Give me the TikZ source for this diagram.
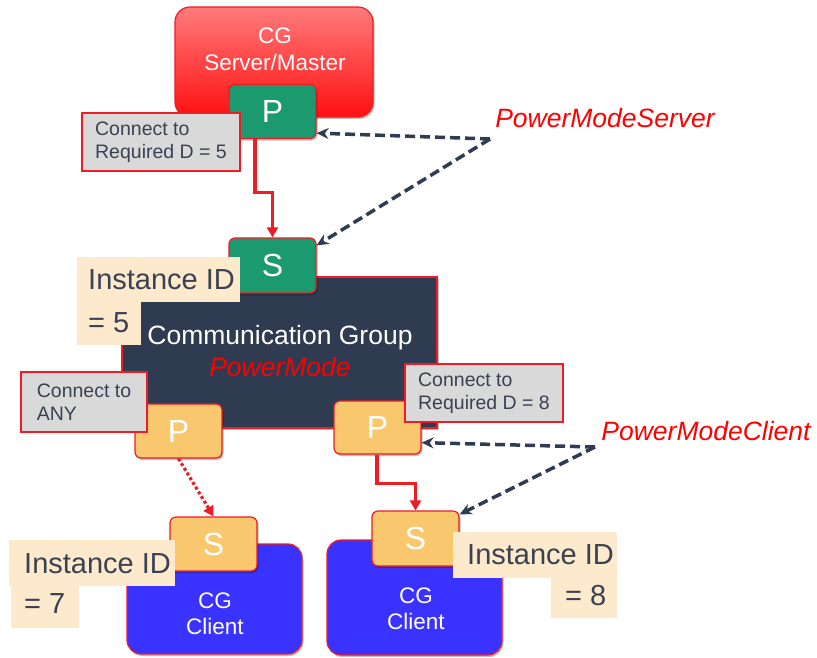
\documentclass[tikz,border=0pt]{standalone}
\usepackage{fontspec}
\setmainfont{Liberation Sans}
\usetikzlibrary{arrows.meta,shadows}
\definecolor{portgreen}{HTML}{1B9A6F}
\definecolor{portorange}{HTML}{F9C76D}
\definecolor{redline}{HTML}{EE1C24}
\definecolor{lblgray}{HTML}{D9D9D9}
\definecolor{lbltext}{HTML}{3A4152}
\definecolor{beigec}{HTML}{FDE9CB}
\definecolor{cgdark}{HTML}{2E3B50}
\definecolor{clientblue}{HTML}{3A33FF}
\definecolor{dashc}{HTML}{2E3D52}
\definecolor{redtxt}{HTML}{FF0000}
\definecolor{srvtop}{HTML}{FF7B7B}
\definecolor{srvbot}{HTML}{FF1010}
\begin{document}
\begin{tikzpicture}[x=1pt,y=-1pt,
  shad/.style={drop shadow={shadow xshift=1.5pt, shadow yshift=-2pt, opacity=0.25, fill=black}},
  port/.style={shad, rounded corners=6pt, draw=redline, line width=1.2pt, minimum width=87pt, minimum height=54pt, text=white, font=\fontsize{32}{34}\selectfont, inner sep=0pt},
  gport/.style={port, fill=portgreen},
  oport/.style={port, fill=portorange},
  graylbl/.style={fill=lblgray, draw=redline, line width=1.5pt, align=left, text=lbltext, font=\fontsize{19.5}{23}\selectfont, inner sep=0pt},
  beige/.style={fill=beigec, inner sep=0pt},
  beigetxt/.style={anchor=west, inner sep=0pt, text=lbltext, font=\fontsize{29}{31}\selectfont},
  client/.style={shad, rounded corners=14pt, fill=clientblue, draw=redline, line width=1.2pt, minimum width=175pt, inner sep=0pt},
  whitetxt/.style={text=white, align=center, inner sep=0pt},
  redarrow/.style={draw=redline, line width=3.2pt, -{Triangle[length=10pt,width=11pt]}},
  dotarrow/.style={draw=redline, line width=3.2pt, dash pattern=on 3pt off 2.5pt, -{Triangle[length=10pt,width=11pt]}},
  darrow/.style={draw=dashc, line width=3.5pt, dash pattern=on 10pt off 5pt, -{Stealth[length=12pt,width=11pt]}},
  nametxt/.style={text=redtxt, font=\fontsize{26.5}{30}\selectfont\itshape, inner sep=0pt}
]
\fill[white] (0,0) rectangle (817,657);
\useasboundingbox (0,0) rectangle (817,657);

% server
\node[shad, rounded corners=15pt, top color=srvtop, bottom color=srvbot, draw=redline, line width=1.2pt,
      minimum width=198pt, minimum height=110pt, inner sep=0pt] (srv) at (274,62) {};
\node[whitetxt, font=\fontsize{22.5}{27}\selectfont] (srvtxt) at (275,49) {CG\\Server/Master};
\node[gport] (srvP) at (272.5,111.5) {P};
\node[graylbl, minimum width=158pt, minimum height=58pt] (lbl5) at (161,142) {Connect to\\Required D = 5};

% communication group
\node[shad, fill=cgdark, draw=redline, line width=1.2pt, minimum width=315pt, minimum height=151pt, inner sep=0pt] (cg) at (279.5,352.5) {};
\node[gport, minimum height=55pt] (cgS) at (272.5,265.5) {S};
\node[whitetxt, font=\fontsize{26.5}{32}\selectfont] (cgtxt) at (280,351) {Communication Group\\\textcolor{redtxt}{\itshape PowerMode}};
\node[beige, minimum width=163pt, minimum height=45pt] (inst5a) at (158.5,279.5) {};
\node[beige, minimum width=64pt, minimum height=43pt] (inst5b) at (109,323.5) {};
\node[beigetxt] (inst5t) at (88,280) {Instance ID};
\node[beigetxt] (inst5v) at (88,323) {= 5};

% publishers of the group
\node[oport] (lP) at (178.5,431) {P};
\node[oport, minimum height=53pt] (rP) at (377.5,427.5) {P};
\node[graylbl, minimum width=126pt, minimum height=60pt] (lblany) at (84,402) {Connect to\\ANY};
\node[graylbl, minimum width=158pt, minimum height=58pt] (lbl8) at (484,393) {Connect to\\Required D = 8};

% clients
\node[client, minimum height=110pt] (lcl) at (214.5,599) {};
\node[whitetxt, font=\fontsize{22.5}{26}\selectfont] (lcltxt) at (215,614) {CG\\Client};
\node[client, minimum height=115pt] (rcl) at (414.5,597.5) {};
\node[whitetxt, font=\fontsize{22.5}{26}\selectfont] (rcltxt) at (416,609) {CG\\Client};
\node[oport] (lS) at (213.5,544) {S};
\node[oport, minimum height=55pt] (rS) at (415.5,538.5) {S};

\node[beige, minimum width=166pt, minimum height=46pt] (inst7a) at (92,563) {};
\node[beige, minimum width=68pt, minimum height=42pt] (inst7b) at (45,607) {};
\node[beigetxt] (inst7t) at (24,564) {Instance ID};
\node[beigetxt] (inst7v) at (24,604) {= 7};

\node[beige, minimum width=164pt, minimum height=46pt] (inst8a) at (535,555) {};
\node[beige, minimum width=66pt, minimum height=40pt] (inst8b) at (584,598) {};
\node[beigetxt] (inst8t) at (467,555) {Instance ID};
\node[beigetxt] (inst8v) at (565,596) {= 8};

% red connectors
\draw[redarrow] ([xshift=-17.5pt]srvP.south) -- ++(0,53) -| (cgS.north);
\draw[redarrow] ([xshift=-0.5pt]rP.south) -- ++(0,29) -| (rS.north);
\draw[dotarrow] (lP.south) -- (lS.north);

% role labels
\node[nametxt] (srvname) at (605,118) {PowerModeServer};
\node[nametxt] (cliname) at (706,431) {PowerModeClient};
\coordinate (srvsrc) at (490,139);
\coordinate (clisrc) at (595,447);
\draw[darrow] (srvsrc) -- ([yshift=6pt]srvP.south east);
\draw[darrow] (srvsrc) -- ([yshift=-8pt]cgS.north east);
\draw[darrow] (clisrc) -- ([yshift=12pt]rP.south east);
\draw[darrow] (clisrc) -- ([yshift=-4pt]rS.north east);
\end{tikzpicture}
\end{document}
